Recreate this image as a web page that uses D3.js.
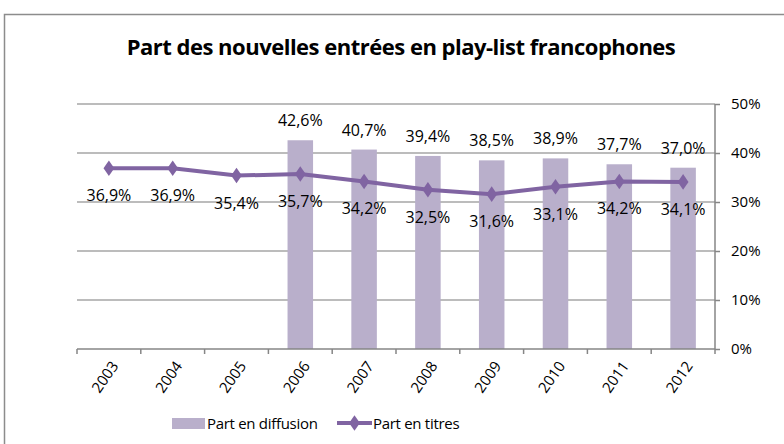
<html>
<meta charset="utf-8">
<head>
<script src="https://cdn.jsdelivr.net/npm/d3@7/dist/d3.min.js"></script>
<style>
  body { margin: 0; background: #fff; }
  text { font-family: "Open Sans", "DejaVu Sans", sans-serif; fill: #000; }
</style>
</head>
<body>
<div id="chart"></div>
<script>
var years = ["2003", "2004", "2005", "2006", "2007", "2008", "2009", "2010", "2011", "2012"];
var diffusion = [null, null, null, 42.6, 40.7, 39.4, 38.5, 38.9, 37.7, 37.0];
var titres = [36.9, 36.9, 35.4, 35.7, 34.2, 32.5, 31.6, 33.1, 34.2, 34.1];
var yTicks = [0, 10, 20, 30, 40, 50];

var W = 784, H = 444;
var mLeft = 77, mRight = 715, mTop = 104, mBottom = 349;

var svg = d3.select("#chart").append("svg")
    .attr("width", W)
    .attr("height", H);

// chart frame
svg.append("rect")
    .attr("x", 4.5).attr("y", 14.5)
    .attr("width", 800).attr("height", 460)
    .attr("fill", "none")
    .attr("stroke", "#8c8c8c")
    .attr("stroke-width", 1.5);

svg.append("text")
    .attr("x", 401).attr("y", 55)
    .attr("text-anchor", "middle")
    .style("font-size", "22px")
    .style("font-weight", "bold")
    .style("letter-spacing", "-0.5px")
    .text("Part des nouvelles entrées en play-list francophones");

var x = d3.scaleBand().domain(years).range([mLeft, mRight]);
var y = d3.scaleLinear().domain([0, 50]).range([mBottom, mTop]);

function fmt(v) { return v.toFixed(1).replace(".", ",") + "%"; }

// gridlines
svg.append("g").selectAll("line")
    .data(yTicks.filter(function(d) { return d > 0; }))
    .enter().append("line")
    .attr("x1", mLeft).attr("x2", mRight)
    .attr("y1", function(d) { return y(d); })
    .attr("y2", function(d) { return y(d); })
    .attr("stroke", "#a6a6a6")
    .attr("stroke-width", 1.3);

// bars
var barW = x.bandwidth() * 0.4;
var barData = years.map(function(yr, i) { return {yr: yr, v: diffusion[i]}; })
    .filter(function(d) { return d.v !== null; });
svg.append("g").selectAll("rect")
    .data(barData)
    .enter().append("rect")
    .attr("x", function(d) { return x(d.yr) + (x.bandwidth() - barW) / 2; })
    .attr("y", function(d) { return y(d.v); })
    .attr("width", barW)
    .attr("height", function(d) { return mBottom - y(d.v); })
    .attr("fill", "#b9afcb");

// bar labels
svg.append("g").selectAll("text")
    .data(barData)
    .enter().append("text")
    .attr("x", function(d) { return x(d.yr) + x.bandwidth() / 2; })
    .attr("y", function(d) { return y(d.v) - 14; })
    .attr("text-anchor", "middle")
    .style("font-size", "16px")
    .text(function(d) { return fmt(d.v); });

// x axis
var gx = svg.append("g").attr("transform", "translate(0," + mBottom + ")");
gx.append("line").attr("x1", mLeft).attr("x2", mRight)
    .attr("stroke", "#868686").attr("stroke-width", 1.5);
gx.selectAll(".tk").data(d3.range(years.length + 1)).enter().append("line")
    .attr("x1", function(i) { return mLeft + i * x.step(); })
    .attr("x2", function(i) { return mLeft + i * x.step(); })
    .attr("y1", 0).attr("y2", 5)
    .attr("stroke", "#868686").attr("stroke-width", 1.5);

gx.selectAll(".yl").data(years).enter().append("text")
    .attr("transform", function(d) {
        return "translate(" + (x(d) + x.bandwidth() / 2 + 6) + ",14) rotate(-55)";
    })
    .attr("text-anchor", "end")
    .attr("dy", "0.35em")
    .style("font-size", "15px")
    .text(function(d) { return d; });

// y axis (right)
var yAxis = d3.axisRight(y).tickValues(yTicks).tickSize(5)
    .tickFormat(function(d) { return d + "%"; });
var gy = svg.append("g").attr("transform", "translate(" + mRight + ",0)").call(yAxis);
gy.select(".domain").attr("stroke", "#868686").attr("stroke-width", 1.5)
    .attr("d", "M0," + mTop + "V" + mBottom);
gy.selectAll(".tick line").attr("stroke", "#868686").attr("stroke-width", 1.5);
gy.selectAll(".tick text")
    .attr("x", 16)
    .attr("fill", "#000")
    .style("font-size", "15px")
    .style("font-family", "'Open Sans', sans-serif");

// line
var pts = years.map(function(yr, i) { return {yr: yr, v: titres[i]}; });
var line = d3.line()
    .x(function(d) { return x(d.yr) + x.bandwidth() / 2; })
    .y(function(d) { return y(d.v); });
svg.append("path")
    .datum(pts)
    .attr("d", line)
    .attr("fill", "none")
    .attr("stroke", "#8064a2")
    .attr("stroke-width", 4);

svg.append("g").selectAll("path")
    .data(pts)
    .enter().append("path")
    .attr("d", d3.symbol().type(d3.symbolDiamond).size(70))
    .attr("transform", function(d) {
        return "translate(" + (x(d.yr) + x.bandwidth() / 2) + "," + y(d.v) + ") scale(1.2,1)";
    })
    .attr("fill", "#8064a2");

svg.append("g").selectAll("text")
    .data(pts)
    .enter().append("text")
    .attr("x", function(d) { return x(d.yr) + x.bandwidth() / 2; })
    .attr("y", function(d) { return y(d.v) + 33; })
    .attr("text-anchor", "middle")
    .style("font-size", "16px")
    .text(function(d) { return fmt(d.v); });

// legend
var lg = svg.append("g");
lg.append("rect").attr("x", 172).attr("y", 418).attr("width", 33).attr("height", 11)
    .attr("fill", "#b9afcb");
lg.append("text").attr("x", 207).attr("y", 429).style("font-size", "15px")
    .style("letter-spacing", "-0.3px")
    .text("Part en diffusion");
lg.append("line").attr("x1", 337).attr("x2", 372).attr("y1", 423).attr("y2", 423)
    .attr("stroke", "#8064a2").attr("stroke-width", 4);
lg.append("path").attr("d", d3.symbol().type(d3.symbolDiamond).size(70))
    .attr("transform", "translate(354.5,423) scale(1.2,1)")
    .attr("fill", "#8064a2");
lg.append("text").attr("x", 373).attr("y", 429).style("font-size", "15px")
    .style("letter-spacing", "-0.3px")
    .text("Part en titres");
</script>
</body>
</html>
